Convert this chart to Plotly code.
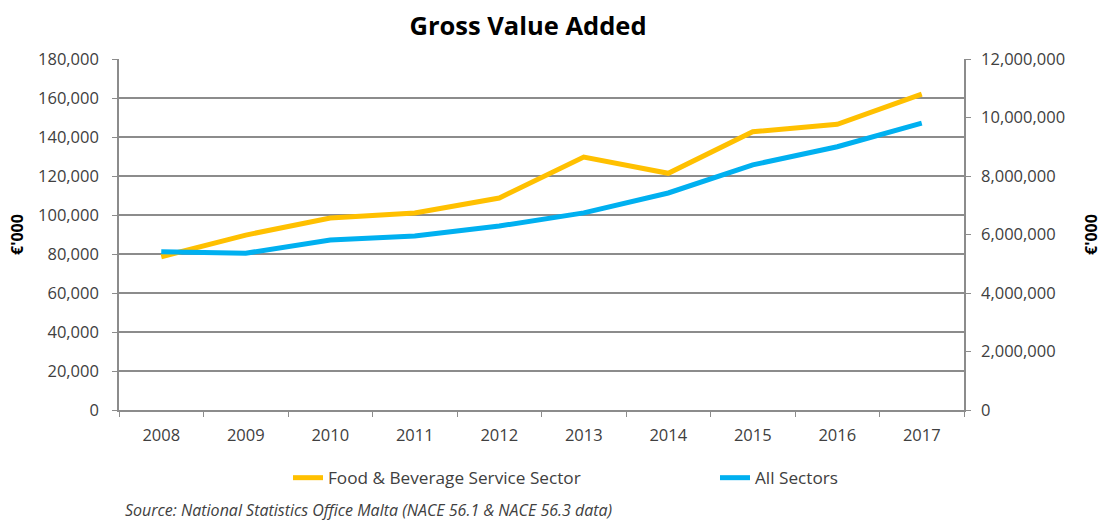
import plotly.graph_objects as go

# Gross value added, EUR thousands
years = ["2008", "2009", "2010", "2011", "2012", "2013", "2014", "2015", "2016", "2017"]
food_beverage = [78600, 89700, 98500, 101000, 108700, 129700, 121400, 142700, 146500, 162000]
all_sectors = [5410000, 5360000, 5810000, 5950000, 6290000, 6740000, 7420000, 8380000, 9000000, 9810000]

left_ticks = list(range(0, 180001, 20000))
right_ticks = list(range(0, 12000001, 2000000))

FONT = "'Open Sans', Lato, sans-serif"
TEXT = "#404040"
GRID = "#8c8c8c"

fig = go.Figure()
fig.add_trace(go.Scatter(
    x=years, y=food_beverage, name="Food & Beverage Service Sector",
    mode="lines", line=dict(color="#FFC000", width=5), yaxis="y", legend="legend",
))
fig.add_trace(go.Scatter(
    x=years, y=all_sectors, name="All Sectors",
    mode="lines", line=dict(color="#00B0F0", width=5), yaxis="y2", legend="legend2",
))

legend_common = dict(
    orientation="h", xanchor="left", yanchor="middle",
    y=(410 - 478) / 351, font=dict(family=FONT, size=17.2, color=TEXT),
    bgcolor="rgba(0,0,0,0)", itemwidth=30,
)

fig.update_layout(
    width=1104, height=522,
    margin=dict(l=119, r=140, t=59, b=112),
    paper_bgcolor="white", plot_bgcolor="white",
    font=dict(family=FONT, size=16, color=TEXT),
    title=dict(text="<b>Gross Value Added</b>", x=528 / 1104, xanchor="center",
               y=1 - 26 / 522, yanchor="middle", automargin=False,
               font=dict(family=FONT, size=25.5, color="#000000")),
    xaxis=dict(
        type="category", range=[-0.5, 9.5], tickson="boundaries",
        ticks="outside", ticklen=5, tickcolor=GRID,
        showline=True, linecolor=GRID, linewidth=1.5,
        showgrid=False, tickfont=dict(size=16.5, color=TEXT),
        ticklabelstandoff=9, automargin=False,
    ),
    yaxis=dict(
        range=[0, 180000], tickvals=left_ticks, tickformat=",d",
        ticks="outside", ticklen=5, tickcolor=GRID,
        showline=True, linecolor=GRID, linewidth=1.5,
        showgrid=True, gridcolor=GRID, gridwidth=1.5,
        zeroline=False, tickfont=dict(size=16.5, color=TEXT),
        ticklabelstandoff=10, automargin=False,
        title=dict(text="<b>€'000</b>", standoff=10, font=dict(size=16, color="#000000")),
    ),
    yaxis2=dict(
        range=[0, 12000000], tickvals=right_ticks, tickformat=",d",
        overlaying="y", side="right",
        ticks="outside", ticklen=5, tickcolor=GRID,
        showline=True, linecolor=GRID, linewidth=1.5,
        showgrid=False, zeroline=False, tickfont=dict(size=16.5, color=TEXT),
        ticklabelstandoff=7, automargin=False,
        title=dict(text="<b>€'000</b>", standoff=22, font=dict(size=16, color="#000000")),
    ),
    legend=dict(x=(288 - 119) / 845, **legend_common),
    legend2=dict(x=(715 - 119) / 845, **legend_common),
    showlegend=True,
)

fig.add_annotation(
    text="<i>Source: National Statistics Office Malta (NACE 56.1 & NACE 56.3 data)</i>",
    xref="paper", yref="paper", x=(123 - 119) / 845, y=(410 - 510) / 351,
    xanchor="left", yanchor="middle", showarrow=False,
    font=dict(family=FONT, size=16, color=TEXT),
)

fig.write_html("out.html")
